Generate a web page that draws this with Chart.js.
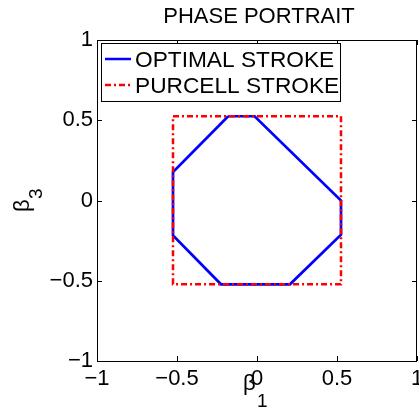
<!DOCTYPE html>
<html>
<head>
<meta charset="utf-8">
<script src="https://cdn.jsdelivr.net/npm/chart.js@4.4.1/dist/chart.umd.min.js"></script>
<style>
body{margin:0;background:#fff;}
canvas{display:block;}
</style>
</head>
<body>
<canvas id="phaseChart" width="419" height="412"></canvas>
<script>
// optimal stroke (octagon) and purcell stroke (square), beta1 vs beta3
const optimalB1=[-0.18,-0.015,0.525,0.525,0.206,-0.225,-0.525,-0.525,-0.18];
const optimalB3=[0.525,0.525,0.0,-0.213,-0.522,-0.522,-0.217,0.178,0.525];
const purcellB1=[-0.525,0.525,0.525,-0.525,-0.525];
const purcellB3=[0.525,0.525,-0.522,-0.522,0.525];
const tickValues=[-1,-0.5,0,0.5,1];
const seriesNames=['OPTIMAL STROKE','PURCELL STROKE'];
const chartTitle='PHASE PORTRAIT';

const FONT='"Liberation Sans", Arial, sans-serif';

function toPoints(xs,ys){
    return xs.map((x,i)=>({x:x,y:ys[i]}));
}

function fmtTick(v){
    return v<0?'\u2212'+Math.abs(v):String(v);
}

const framePlugin={
    id:'frame',
    afterDraw(chart){
        const ctx=chart.ctx,a=chart.chartArea;
        const xs=chart.scales.x,ys=chart.scales.y;
        ctx.save();
        ctx.strokeStyle='#000';
        ctx.lineWidth=1;
        ctx.strokeRect(a.left+0.5,a.top+0.5,a.right-a.left-1,a.bottom-a.top);
        // inward ticks on all four sides
        ctx.beginPath();
        tickValues.forEach(v=>{
            const px=Math.round(xs.getPixelForValue(v))+0.5;
            ctx.moveTo(px,a.bottom);ctx.lineTo(px,a.bottom-5);
            ctx.moveTo(px,a.top);ctx.lineTo(px,a.top+5);
            const py=Math.round(ys.getPixelForValue(v))+0.5;
            ctx.moveTo(a.left,py);ctx.lineTo(a.left+5,py);
            ctx.moveTo(a.right,py);ctx.lineTo(a.right-5,py);
        });
        ctx.stroke();

        // title
        ctx.fillStyle='#000';
        ctx.font='22px '+FONT;
        ctx.textAlign='center';
        ctx.textBaseline='alphabetic';
        ctx.fillText(chartTitle,(a.left+a.right)/2+2,23);

        // x label beta_1
        ctx.textAlign='left';
        ctx.font='22px '+FONT;
        ctx.fillText('\u03b2',243,390);
        ctx.font='19px '+FONT;
        ctx.fillText('1',257,407);

        // y label beta_3
        ctx.save();
        ctx.translate(29,212);
        ctx.rotate(-Math.PI/2);
        ctx.font='22px '+FONT;
        ctx.fillText('\u03b2',0,0);
        ctx.font='19px '+FONT;
        ctx.fillText('3',13,13);
        ctx.restore();

        // legend
        ctx.fillStyle='#fff';
        ctx.fillRect(101,43,239,58);
        ctx.strokeStyle='#000';
        ctx.lineWidth=1;
        ctx.strokeRect(101.5,43.5,239,58);
        ctx.lineWidth=2.5;
        ctx.strokeStyle='#0000ff';
        ctx.beginPath();ctx.moveTo(105,59);ctx.lineTo(131,59);ctx.stroke();
        ctx.strokeStyle='#ff0000';
        ctx.setLineDash([6,3,2,3]);
        ctx.beginPath();ctx.moveTo(105,85);ctx.lineTo(131,85);ctx.stroke();
        ctx.setLineDash([]);
        ctx.fillStyle='#000';
        ctx.font='22.7px '+FONT;
        ctx.textAlign='left';
        ctx.fillText(seriesNames[0],135,67);
        ctx.fillText(seriesNames[1],135,93);
        ctx.restore();
    }
};

function drawPhaseChart(){
    const ctx=document.getElementById('phaseChart').getContext('2d');
    window.phaseChart=new Chart(ctx,{
        type:'scatter',
        data:{datasets:[
            {label:seriesNames[0],data:toPoints(optimalB1,optimalB3),showLine:true,
             borderColor:'#0000ff',borderWidth:2.7,pointRadius:0,order:2},
            {label:seriesNames[1],data:toPoints(purcellB1,purcellB3),showLine:true,
             borderColor:'#ff0000',borderWidth:2.5,borderDash:[6,3,2,3],pointRadius:0,order:1}
        ]},
        options:{
            responsive:false,
            animation:false,
            devicePixelRatio:1,
            layout:{padding:{top:40,right:2,left:0,bottom:0}},
            plugins:{legend:{display:false},title:{display:false},tooltip:{enabled:false}},
            scales:{
                x:{type:'linear',min:-1,max:1,
                   afterFit(s){s.height=51;s.paddingLeft=0;s.paddingRight=0;},
                   grid:{display:false,drawTicks:false},border:{display:false},
                   ticks:{stepSize:0.5,padding:5,color:'#000',maxRotation:0,font:{family:FONT,size:22},callback:fmtTick}},
                y:{type:'linear',min:-1,max:1,
                   afterFit(s){s.width=97;s.paddingTop=0;s.paddingBottom=0;},
                   grid:{display:false,drawTicks:false},border:{display:false},
                   ticks:{stepSize:0.5,padding:4,color:'#000',font:{family:FONT,size:22},callback:fmtTick}}
            }
        },
        plugins:[framePlugin]
    });
}

drawPhaseChart();
</script>
</body>
</html>
